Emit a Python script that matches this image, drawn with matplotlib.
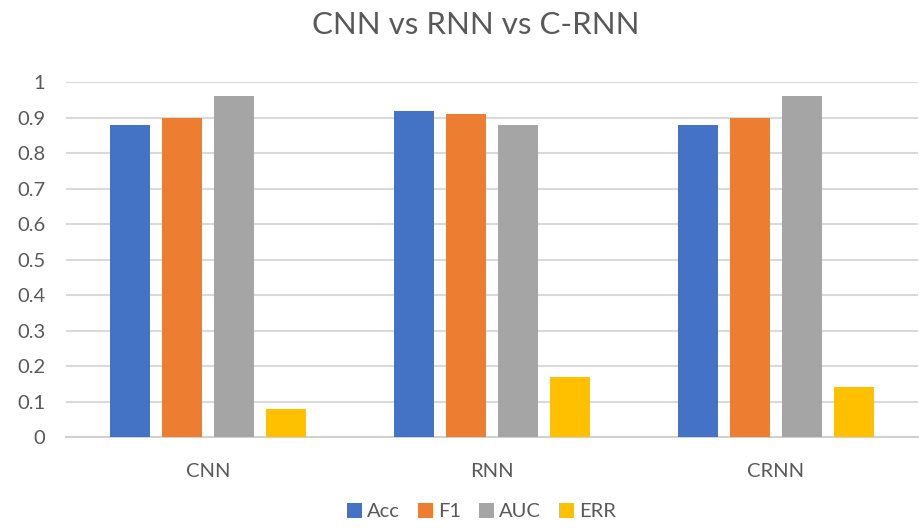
import numpy as np
import matplotlib
matplotlib.use('Agg')
import matplotlib.pyplot as plt

# data
models = ['CNN', 'RNN', 'CRNN']
metrics = ['Acc', 'F1', 'AUC', 'ERR']
acc = [0.88, 0.92, 0.88]
f1 = [0.90, 0.91, 0.90]
auc = [0.96, 0.88, 0.96]
err = [0.08, 0.17, 0.14]
colors = ['#4472C4', '#ED7D31', '#A5A5A5', '#FFC000']

plt.rcParams['font.family'] = ['Lato', 'DejaVu Sans']

fig = plt.figure(figsize=(9.19, 5.30), dpi=100)
ax = fig.add_axes([0.0718, 0.1755, 0.927, 0.6695])

x = np.arange(len(models))
w = 0.141
step = 0.183
for i, (vals, name) in enumerate(zip([acc, f1, auc, err], metrics)):
    ax.bar(x + (i - 1.5) * step, vals, w, color=colors[i], label=name, zorder=3)

ax.set_xlim(-0.5, 2.5)
ax.set_ylim(0, 1)
ax.set_yticks(np.arange(0, 1.01, 0.1))
ax.set_yticklabels(['0'] + ['%.1f' % v for v in np.arange(0.1, 0.95, 0.1)] + ['1'])
ax.set_xticks(x)
ax.set_xticklabels(models)
ax.grid(axis='y', color='#D9D9D9', linewidth=1.5, zorder=0)
for s in ['top', 'right', 'left']:
    ax.spines[s].set_visible(False)
ax.spines['bottom'].set_color('#D0D0D0')
ax.spines['bottom'].set_linewidth(1.5)
ax.tick_params(axis='both', length=0, labelsize=14.5, labelcolor='#595959')
ax.tick_params(axis='y', pad=15)
ax.tick_params(axis='x', pad=19)

fig.suptitle('CNN vs RNN vs C-RNN', x=0.518, y=0.98, fontsize=22.5, color='#595959')
fig.legend(loc='lower center', bbox_to_anchor=(0.524, -0.016), ncol=4, frameon=False,
           fontsize=14.5, handlelength=0.75, handleheight=0.75, handletextpad=0.25,
           columnspacing=0.9, labelcolor='#595959')

fig.savefig('out.png', dpi=100)
